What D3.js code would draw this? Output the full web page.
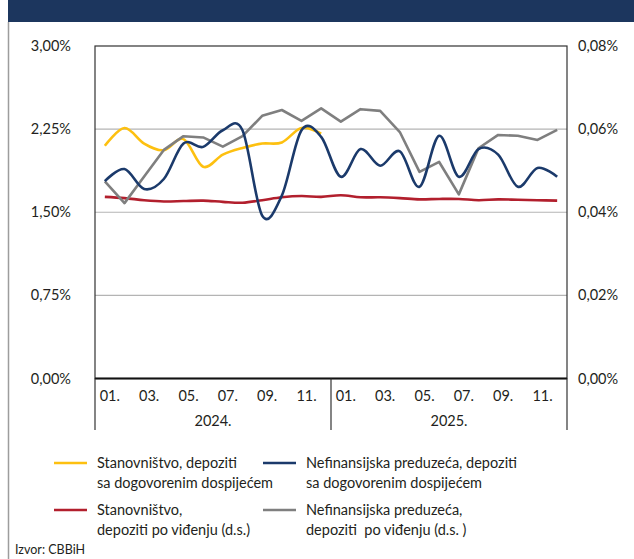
<!DOCTYPE html>
<html>
<head>
<meta charset="utf-8">
<script src="https://cdn.jsdelivr.net/npm/d3@7"></script>
<style>
  body { margin: 0; background: #fff; }
  text { font-family: Lato, "Open Sans", sans-serif; fill: #231f20; white-space: pre; }
</style>
</head>
<body>
<div class="draw"></div>
<script>
// months Jan 2024 - Dec 2025
const years = ["2024.", "2025."];
const monthLabels = ["01.", "02.", "03.", "04.", "05.", "06.", "07.", "08.", "09.", "10.", "11.", "12."];
const periods = years.flatMap(y => monthLabels.map(m => y + m));

// left scale (%)
const stanDosp = [2.10, 2.26, 2.12, 2.06, 2.16, 1.91, 2.02, 2.08, 2.12, 2.13, 2.26, 2.21,
  null, null, null, null, null, null, null, null, null, null, null, null];
const nefinDosp = [1.78, 1.89, 1.71, 1.80, 2.12, 2.09, 2.24, 2.24, 1.47, 1.65, 2.24, 2.18,
  1.82, 2.07, 1.92, 2.05, 1.73, 2.19, 1.82, 2.07, 2.02, 1.73, 1.90, 1.82];
// right scale (%)
const stanVidj = [0.0437, 0.0434, 0.0429, 0.0426, 0.0427, 0.0428, 0.0425, 0.0423, 0.0429, 0.0436, 0.0439, 0.0437,
  0.0441, 0.0436, 0.0436, 0.0434, 0.0431, 0.0432, 0.0432, 0.0429, 0.0431, 0.0430, 0.0429, 0.0428];
const nefinVidj = [0.0474, 0.0422, 0.0486, 0.0550, 0.0583, 0.0580, 0.0558, 0.0583, 0.0632, 0.0646, 0.0620, 0.0650,
  0.0618, 0.0648, 0.0644, 0.0593, 0.0497, 0.0521, 0.0443, 0.0554, 0.0586, 0.0584, 0.0574, 0.0598];

const leftTicks = [0, 0.75, 1.5, 2.25, 3.0];
const rightTicks = [0, 0.02, 0.04, 0.06, 0.08];
const shownMonths = ["01.", "03.", "05.", "07.", "09.", "11."];

const legendItems = [
  { lines: ["Stanovništvo, depoziti", "sa dogovorenim dospijećem"], color: "#fdc010" },
  { lines: ["Nefinansijska preduzeća, depoziti", "sa dogovorenim dospijećem"], color: "#1b3a6b" },
  { lines: ["Stanovništvo,", "depoziti po viđenju (d.s.)"], color: "#b21f2d" },
  { lines: ["Nefinansijska preduzeća,", "depoziti  po viđenju (d.s. )"], color: "#7f7f7f" }
];

const W = 634, H = 559;
const FS = 14.5;
const svg = d3.select(".draw")
    .append("svg")
    .attr("width", W)
    .attr("height", H);

// header band + left frame line
svg.append("rect").attr("x", 8).attr("y", 0).attr("width", W - 8).attr("height", 22).attr("fill", "#1c365e");
svg.append("line").attr("x1", 8.5).attr("x2", 8.5).attr("y1", 22).attr("y2", H)
    .attr("stroke", "#9d9d9d").attr("stroke-width", 1.5);

const plot = { left: 95, right: 567, top: 46, bottom: 378.5 };

const x = d3.scaleBand()
    .domain(periods)
    .range([plot.left, plot.right]);
const yL = d3.scaleLinear().domain([0, 3]).range([plot.bottom, plot.top]);
const yR = d3.scaleLinear().domain([0, 0.08]).range([plot.bottom, plot.top]);
const cx = d => x(d) + x.bandwidth() / 2;

const fmt = v => d3.format(".2f")(v).replace(".", ",") + "%";

// gridlines
svg.append("g").selectAll("line")
    .data(leftTicks.filter(t => t > 0 && t < 3))
    .join("line")
    .attr("x1", plot.left).attr("x2", plot.right)
    .attr("y1", d => yL(d)).attr("y2", d => yL(d))
    .attr("stroke", "#b4b4b4").attr("stroke-width", 1.2);

// frame
svg.append("rect")
    .attr("x", plot.left).attr("y", plot.top)
    .attr("width", plot.right - plot.left).attr("height", plot.bottom - plot.top)
    .attr("fill", "none").attr("stroke", "#333").attr("stroke-width", 1.2);

// left axis labels
svg.append("g").selectAll("text")
    .data(leftTicks)
    .join("text")
    .attr("x", 71).attr("y", d => yL(d) + 5)
    .attr("text-anchor", "end").attr("font-size", FS)
    .text(fmt);

// right axis labels
svg.append("g").selectAll("text")
    .data(rightTicks)
    .join("text")
    .attr("x", 578).attr("y", d => yR(d) + 5)
    .attr("font-size", FS)
    .text(fmt);

// x axis: month labels, year labels and separators
const xg = svg.append("g");
xg.append("line").attr("x1", plot.left).attr("x2", plot.right)
    .attr("y1", plot.bottom).attr("y2", plot.bottom)
    .attr("stroke", "#111").attr("stroke-width", 2);
xg.selectAll(".mon")
    .data(periods.filter(p => shownMonths.includes(p.slice(5))))
    .join("text")
    .attr("class", "mon")
    .attr("x", d => cx(d) + 5).attr("y", 401)
    .attr("text-anchor", "middle").attr("font-size", FS)
    .text(d => d.slice(5));
xg.selectAll(".yr")
    .data(years)
    .join("text")
    .attr("class", "yr")
    .attr("x", d => (x(d + "01.") + x(d + "12.") + x.bandwidth()) / 2)
    .attr("y", 426)
    .attr("text-anchor", "middle").attr("font-size", FS)
    .text(d => d);
const seps = [x(years[0] + "01."), x(years[1] + "01."), plot.right];
xg.selectAll(".sep")
    .data(seps)
    .join("line")
    .attr("x1", d => d).attr("x2", d => d)
    .attr("y1", plot.bottom).attr("y2", 430)
    .attr("stroke", "#333").attr("stroke-width", 1.2);

// lines
const smooth = d3.curveCardinal.tension(0);
function drawLine(vals, scale, color, curve) {
  const line = d3.line()
      .defined(d => d.v != null)
      .x(d => cx(d.p))
      .y(d => scale(d.v))
      .curve(curve);
  svg.append("path")
      .datum(periods.map((p, i) => ({ p: p, v: vals[i] })))
      .attr("fill", "none")
      .attr("stroke", color)
      .attr("stroke-width", 2.6)
      .attr("stroke-linejoin", "round")
      .attr("d", line);
}
drawLine(stanVidj, yR, legendItems[2].color, smooth);
drawLine(stanDosp, yL, legendItems[0].color, smooth);
drawLine(nefinVidj, yR, legendItems[3].color, d3.curveLinear);
drawLine(nefinDosp, yL, legendItems[1].color, smooth);

// legend
const lg = svg.append("g").selectAll("g")
    .data(legendItems)
    .join("g")
    .attr("transform", (d, i) => `translate(${i % 2 ? 263 : 54}, ${i < 2 ? 463 : 510})`);
lg.append("line")
    .attr("x1", 0).attr("x2", 33).attr("y1", 0).attr("y2", 0)
    .attr("stroke", d => d.color).attr("stroke-width", 2.6);
lg.each(function(d) {
  d3.select(this).selectAll("text")
      .data(d.lines)
      .join("text")
      .attr("x", 43).attr("y", (t, j) => j * 20 + 5)
      .attr("font-size", FS)
      .text(t => t);
});

svg.append("text").attr("x", 15).attr("y", 554).attr("font-size", 12.5).text("Izvor: CBBiH");
</script>
</body>
</html>
